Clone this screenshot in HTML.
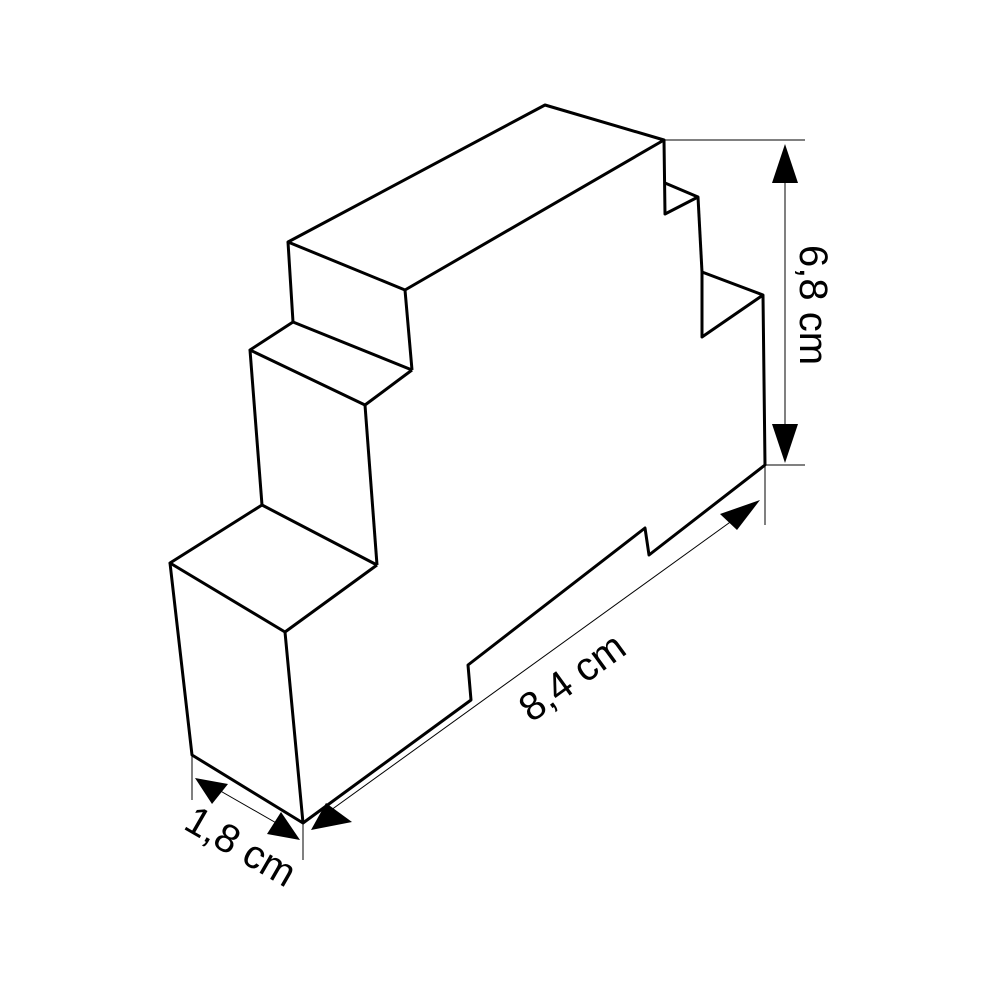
<!DOCTYPE html>
<html><head><style>body{margin:0;background:#fff}</style></head><body>
<svg width="1000" height="1000" viewBox="0 0 1000 1000" xmlns="http://www.w3.org/2000/svg">
<g fill="none" stroke="#000" stroke-width="3" stroke-linejoin="round">
<polygon points="288,242 545,105 664,140 405,290"/>
<line x1="288" y1="242" x2="293" y2="322"/>
<line x1="405" y1="290" x2="412" y2="370"/>
<line x1="293" y1="322" x2="412" y2="370"/>
<polyline points="293,322 250,350 365,405 412,370"/>
<line x1="365" y1="405" x2="377" y2="565"/>
<line x1="250" y1="350" x2="262" y2="505"/>
<line x1="262" y1="505" x2="377" y2="565"/>
<polyline points="262,505 170,563 285,632 377,565"/>
<polyline points="170,563 192,755 303,823 285,632"/>
<polyline points="303,823 471,700 468,665 645,528 649,555 765,465 763,295 702,272 702,337 763,295"/>
<polyline points="664,140 665,214 698,197 665,183"/>
<polyline points="698,197 702,272"/>
</g>
<g stroke="#000" stroke-width="1">
<line x1="665" y1="140" x2="805" y2="140"/>
<line x1="765" y1="465" x2="805" y2="465"/>
<line x1="785" y1="170" x2="785" y2="430"/>
<line x1="765" y1="465" x2="765" y2="525"/>
<line x1="303" y1="823" x2="303" y2="860"/>
<line x1="192" y1="755" x2="192" y2="800"/>
<line x1="320" y1="818" x2="740" y2="515"/>
<line x1="210" y1="785" x2="285" y2="828"/>
</g>
<g fill="#000">
<polygon points="785,144 772,183 798,183"/>
<polygon points="785,463 772,424 798,424"/>
<polygon points="760,500 720,514 737,530"/>
<polygon points="311,830 326,803 352,822"/>
<polygon points="195,778 228,784 212,804"/>
<polygon points="300,840 267,834 281,812"/>
</g>
<g font-family="Liberation Sans, sans-serif" font-size="40" fill="#000" text-anchor="middle">
<text transform="translate(800,305) rotate(90)">6,8 cm</text>
<text transform="translate(580,688) rotate(-36)">8,4 cm</text>
<text transform="translate(234,858) rotate(30)">1,8 cm</text>
</g>
</svg>
</body></html>
